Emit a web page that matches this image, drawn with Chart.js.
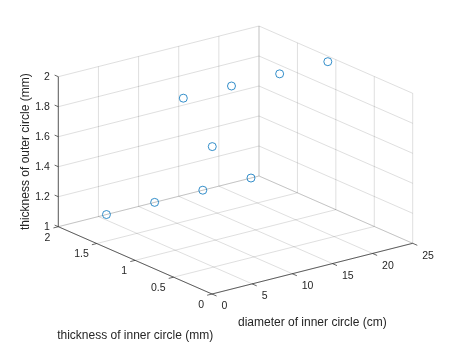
<!DOCTYPE html>
<html>
<head>
<meta charset="utf-8">
<script src="https://cdn.jsdelivr.net/npm/chart.js@4/dist/chart.umd.min.js"></script>
<style>
  html, body { margin: 0; padding: 0; background: #ffffff; }
  #wrap { width: 456px; height: 342px; }
</style>
</head>
<body>
<div id="wrap"><canvas id="c" width="456" height="342"></canvas></div>
<script>
// Measured samples
const diameterInner  = [6, 12, 18, 24, 6, 12, 18, 24, 12];          // cm
const thicknessInner = [2, 2, 2, 2, 1, 1, 1, 1, 1.25];              // mm
const thicknessOuter = [1, 1, 1, 1, 2, 2, 2, 2, 1.54];              // mm

// Axis ticks
const xTicks = [0, 5, 10, 15, 20, 25];
const yTicks = [0, 0.5, 1, 1.5, 2];
const zTicks = [1, 1.2, 1.4, 1.6, 1.8, 2];
const xTickLabels = ['0', '5', '10', '15', '20', '25'];
const yTickLabels = ['0', '0.5', '1', '1.5', '2'];
const zTickLabels = ['1', '1.2', '1.4', '1.6', '1.8', '2'];

const xTitle = 'diameter of inner circle (cm)';
const yTitle = 'thickness of inner circle (mm)';
const zTitle = 'thickness of outer circle (mm)';

// Axis limits of the 3-D box
const xLim = [0, 25], yLim = [0, 2], zLim = [1, 2];

// Orthographic view of the box on the page plane (azimuth ~37.5 deg, elevation ~19 deg)
const view = {
  origin: [212, 294],
  ex: [200.7, -50.7],
  ey: [-153.7, -67.3],
  ez: [0, -150]
};

function project(x, y, z) {
  const u = (x - xLim[0]) / (xLim[1] - xLim[0]);
  const v = (y - yLim[0]) / (yLim[1] - yLim[0]);
  const w = (z - zLim[0]) / (zLim[1] - zLim[0]);
  return {
    x: view.origin[0] + u * view.ex[0] + v * view.ey[0] + w * view.ez[0],
    y: view.origin[1] + u * view.ex[1] + v * view.ey[1] + w * view.ez[1]
  };
}

function unit(v) { const l = Math.hypot(v[0], v[1]); return [v[0] / l, v[1] / l]; }

const points = diameterInner.map((d, i) => project(d, thicknessInner[i], thicknessOuter[i]));

const FONT = '"Liberation Sans", Arial, Helvetica, sans-serif';
const TEXT = '#262626';
const GRID = 'rgba(38,38,38,0.15)';
const AXIS = 'rgba(38,38,38,0.7)';

const box3d = {
  id: 'box3d',
  beforeDatasetsDraw(chart) {
    const ctx = chart.ctx;
    const sx = chart.scales.x, sy = chart.scales.y;
    const P = (x, y, z) => { const p = project(x, y, z); return [sx.getPixelForValue(p.x), sy.getPixelForValue(p.y)]; };
    const seg = (a, b, color, w) => {
      ctx.beginPath();
      ctx.moveTo(a[0], a[1]);
      ctx.lineTo(b[0], b[1]);
      ctx.strokeStyle = color;
      ctx.lineWidth = w;
      ctx.stroke();
    };
    ctx.save();

    // grid on the back wall (y = max)
    xTicks.forEach(x => seg(P(x, yLim[1], zLim[0]), P(x, yLim[1], zLim[1]), GRID, 1));
    zTicks.forEach(z => seg(P(xLim[0], yLim[1], z), P(xLim[1], yLim[1], z), GRID, 1));
    // grid on the side wall (x = max)
    yTicks.forEach(y => seg(P(xLim[1], y, zLim[0]), P(xLim[1], y, zLim[1]), GRID, 1));
    zTicks.forEach(z => seg(P(xLim[1], yLim[0], z), P(xLim[1], yLim[1], z), GRID, 1));
    // grid on the floor (z = min)
    xTicks.forEach(x => seg(P(x, yLim[0], zLim[0]), P(x, yLim[1], zLim[0]), GRID, 1));
    yTicks.forEach(y => seg(P(xLim[0], y, zLim[0]), P(xLim[1], y, zLim[0]), GRID, 1));

    // axis lines
    seg(P(xLim[0], yLim[0], zLim[0]), P(xLim[1], yLim[0], zLim[0]), AXIS, 1);
    seg(P(xLim[0], yLim[0], zLim[0]), P(xLim[0], yLim[1], zLim[0]), AXIS, 1);
    seg(P(xLim[0], yLim[1], zLim[0]), P(xLim[0], yLim[1], zLim[1]), AXIS, 1);

    // tick marks
    const tl = 5;
    const dX = unit([-view.ey[0], -view.ey[1]]);
    const dY = unit([-view.ex[0], -view.ex[1]]);
    const dZ = unit([view.ey[0], view.ey[1]]);
    xTicks.forEach(x => { const a = P(x, yLim[0], zLim[0]); seg(a, [a[0] + dX[0] * tl, a[1] + dX[1] * tl], AXIS, 1); });
    yTicks.forEach(y => { const a = P(xLim[0], y, zLim[0]); seg(a, [a[0] + dY[0] * tl, a[1] + dY[1] * tl], AXIS, 1); });
    zTicks.forEach(z => { const a = P(xLim[0], yLim[1], z); seg(a, [a[0] + dZ[0] * 4, a[1] + dZ[1] * 4], AXIS, 1); });

    // tick labels
    ctx.fillStyle = TEXT;
    ctx.font = '10.5px ' + FONT;
    ctx.textBaseline = 'middle';
    ctx.textAlign = 'left';
    xTicks.forEach((x, i) => { const a = P(x, yLim[0], zLim[0]); ctx.fillText(xTickLabels[i], a[0] + 9.5, a[1] + 12.5); });
    ctx.textAlign = 'right';
    yTicks.forEach((y, i) => { const a = P(xLim[0], y, zLim[0]); ctx.fillText(yTickLabels[i], a[0] - 8, a[1] + 11); });
    zTicks.forEach((z, i) => { const a = P(xLim[0], yLim[1], z); ctx.fillText(zTickLabels[i], a[0] - 8.5, a[1]); });

    // axis titles
    ctx.font = '12px ' + FONT;
    ctx.textAlign = 'center';
    const xm = P((xLim[0] + xLim[1]) / 2, yLim[0], zLim[0]);
    ctx.fillText(xTitle, xm[0], xm[1] + 54);
    const ym = P(xLim[0], (yLim[0] + yLim[1]) / 2, zLim[0]);
    ctx.fillText(yTitle, ym[0], ym[1] + 75);
    const zm = P(xLim[0], yLim[1], (zLim[0] + zLim[1]) / 2);
    ctx.translate(zm[0] - 33, zm[1]);
    ctx.rotate(-Math.PI / 2);
    ctx.fillText(zTitle, 0, 0);

    ctx.restore();
  }
};

new Chart(document.getElementById('c'), {
  type: 'scatter',
  data: {
    datasets: [{
      data: points,
      pointStyle: 'circle',
      pointRadius: 4,
      pointHoverRadius: 4,
      borderColor: '#0072BD',
      backgroundColor: 'rgba(0,0,0,0)',
      borderWidth: 0.8,
      clip: false
    }]
  },
  options: {
    responsive: false,
    animation: false,
    events: [],
    layout: { padding: 0, autoPadding: false },
    plugins: { legend: { display: false }, tooltip: { enabled: false } },
    scales: {
      x: { type: 'linear', min: 0, max: 456, display: false },
      y: { type: 'linear', min: 0, max: 342, reverse: true, display: false }
    }
  },
  plugins: [box3d]
});
</script>
</body>
</html>
